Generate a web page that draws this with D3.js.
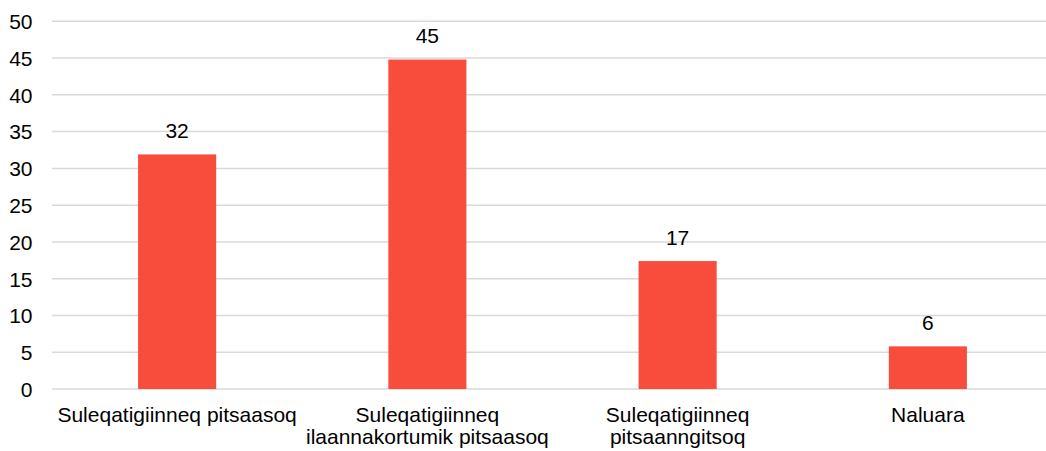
<!DOCTYPE html>
<html><head><meta charset="utf-8">
<script src="https://cdn.jsdelivr.net/npm/d3@7"></script>
<style>body{margin:0;background:#fff;} text{font-family:"Liberation Sans",Arial,sans-serif;}</style>
</head><body>
<svg id="c" width="1046" height="451"></svg>
<script>
const categories = [["Suleqatigiinneq pitsaasoq"], ["Suleqatigiinneq", "ilaannakortumik pitsaasoq"], ["Suleqatigiinneq", "pitsaanngitsoq"], ["Naluara"]];
const values = [31.9, 44.8, 17.4, 5.8];
const valueLabels = ["32", "45", "17", "6"];
const yTicks = [0, 5, 10, 15, 20, 25, 30, 35, 40, 45, 50];

const FS = 21;
const svg = d3.select("#c");
const x = d3.scaleBand().domain(d3.range(categories.length)).range([52, 1053]).paddingInner(0.688).paddingOuter(0.344);
const y = d3.scaleLinear().domain([0, 50]).range([389, 21.3]);

// gridlines
svg.append("g").selectAll("line").data(yTicks).join("line")
  .attr("x1", 52).attr("x2", 1046)
  .attr("y1", d => y(d)).attr("y2", d => y(d))
  .attr("stroke", "#d9d9d9").attr("stroke-width", 1.5);

// y axis labels
const yAxis = d3.axisLeft(y).tickValues(yTicks).tickSize(0).tickPadding(0);
const ya = svg.append("g").attr("transform", "translate(32.5,0)").call(yAxis);
ya.select(".domain").remove();
ya.selectAll("text").attr("font-size", FS).attr("fill", "#000").attr("dy", "0.35em").attr("font-family", "Liberation Sans, Arial, sans-serif");

// bars
svg.append("g").selectAll("rect").data(values).join("rect")
  .attr("x", (d, i) => x(i)).attr("width", x.bandwidth())
  .attr("y", d => y(d)).attr("height", d => y(0) - y(d))
  .attr("fill", "#f84d3d");

// value labels
svg.append("g").selectAll("text").data(values).join("text")
  .attr("x", (d, i) => x(i) + x.bandwidth() / 2)
  .attr("y", d => y(d) - 16.5)
  .attr("text-anchor", "middle").attr("font-size", FS).attr("fill", "#000")
  .text((d, i) => valueLabels[i]);

// category labels
const cg = svg.append("g").selectAll("text").data(categories).join("text")
  .attr("x", (d, i) => x(i) + x.bandwidth() / 2)
  .attr("y", 421.5)
  .attr("text-anchor", "middle").attr("font-size", FS).attr("fill", "#000");
cg.selectAll("tspan").data(d => d).join("tspan")
  .attr("x", function() { return d3.select(this.parentNode).attr("x"); })
  .attr("dy", (d, j) => j === 0 ? 0 : 22.5)
  .text(d => d);
</script>
</body></html>
